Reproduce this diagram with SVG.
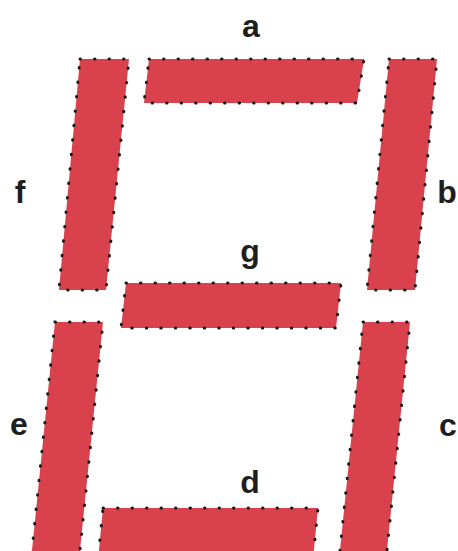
<svg xmlns="http://www.w3.org/2000/svg" width="458" height="551" viewBox="0 0 458 551">
<style>
.seg{fill:#d9424c;stroke:#1a1a1a;stroke-width:3;stroke-linecap:round;stroke-dasharray:0.5 14;}
.lbl{font-family:"Liberation Sans",Arial,sans-serif;font-weight:bold;font-size:32px;fill:#1e1e1e;text-anchor:middle;}
</style>
<rect width="458" height="551" fill="#ffffff"/>
<g id="seg-a"><polygon class="seg" points="149,59 364,59 357,103 144,103"/><text class="lbl" x="251" y="37">a</text></g>
<g id="seg-b"><polygon class="seg" points="389,59 437,59 415,290 367,290"/><text class="lbl" x="447" y="203">b</text></g>
<g id="seg-c"><polygon class="seg" points="363,322 410,322 385,570 338,570"/><text class="lbl" x="448" y="436">c</text></g>
<g id="seg-d"><polygon class="seg" points="103,508 318,508 312,570 97,570"/><text class="lbl" x="250" y="493">d</text></g>
<g id="seg-e"><polygon class="seg" points="55,322 103,322 78,570 30,570"/><text class="lbl" x="19" y="435">e</text></g>
<g id="seg-f"><polygon class="seg" points="80,59 129,59 106,290 59,290"/><text class="lbl" x="20" y="203">f</text></g>
<g id="seg-g"><polygon class="seg" points="126,283 341,283 336,328 121,328"/><text class="lbl" x="250" y="262">g</text></g>
<g id="connectors"></g>
</svg>
